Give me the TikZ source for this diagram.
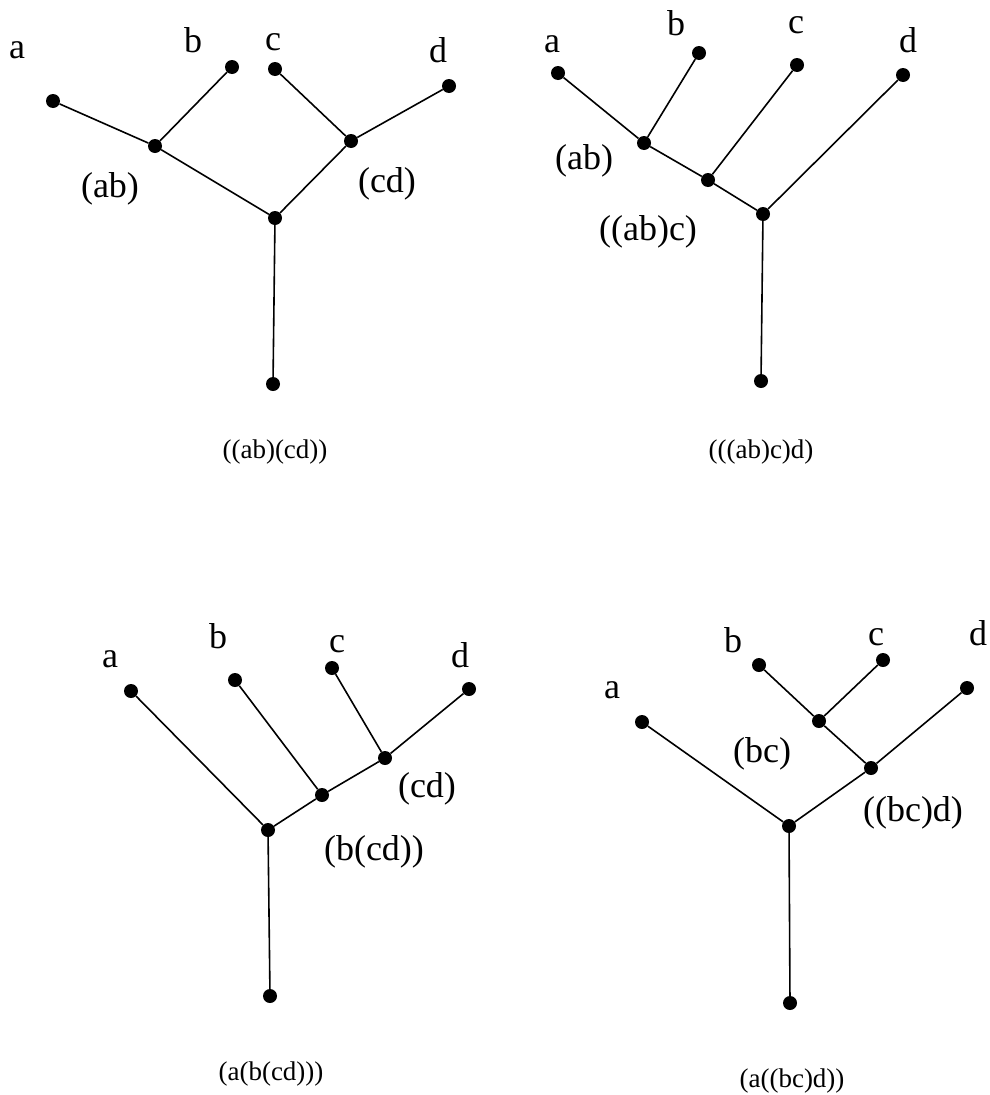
\documentclass[tikz,border=0pt]{standalone}
\usepackage{fontspec}
\setmainfont{Liberation Serif}
\begin{document}
\begin{tikzpicture}[x=1pt,y=-1pt,
  dot/.style={circle,fill=black,draw=none,inner sep=0pt,minimum size=14pt},
  edge/.style={line width=1.6pt},
  lbl/.style={anchor=base,inner sep=0pt,font=\fontsize{36}{40}\selectfont},
  captxt/.style={anchor=base,inner sep=0pt,font=\fontsize{27}{30}\selectfont}]
\useasboundingbox (0,0) rectangle (990,1095);
% ---------- top-left ((ab)(cd))
\node[dot] (tla) at (53,101) {};
\node[dot] (tlb) at (232,67) {};
\node[dot] (tlc) at (275,69) {};
\node[dot] (tld) at (449,86) {};
\node[dot] (tlab) at (155,146) {};
\node[dot] (tlcd) at (351,141) {};
\node[dot] (tlr) at (275,218) {};
\node[dot] (tlbot) at (273,384) {};
\draw[edge] (tla) -- (tlab) -- (tlr) -- (tlbot);
\draw[edge] (tlb) -- (tlab);
\draw[edge] (tlc) -- (tlcd) -- (tlr);
\draw[edge] (tld) -- (tlcd);
\node[lbl] (tlla) at (17,58) {a};
\node[lbl] (tllb) at (193,52) {b};
\node[lbl] (tllc) at (273,50) {c};
\node[lbl] (tlld) at (438,62) {d};
\node[lbl] (tllab) at (110,197) {(ab)};
\node[lbl] (tllcd) at (387,192) {(cd)};
\node[captxt] (tlcap) at (275,458) {((ab)(cd))};
% ---------- top-right (((ab)c)d)
\node[dot] (tra) at (558,73) {};
\node[dot] (trb) at (699,53) {};
\node[dot] (trc) at (797,65) {};
\node[dot] (trd) at (903,75) {};
\node[dot] (trab) at (644,143) {};
\node[dot] (trabc) at (708,180) {};
\node[dot] (trr) at (763,214) {};
\node[dot] (trbot) at (761,381) {};
\draw[edge] (tra) -- (trab) -- (trabc) -- (trr) -- (trbot);
\draw[edge] (trb) -- (trab);
\draw[edge] (trc) -- (trabc);
\draw[edge] (trd) -- (trr);
\node[lbl] (trla) at (552,52) {a};
\node[lbl] (trlb) at (676,35) {b};
\node[lbl] (trlc) at (796,33) {c};
\node[lbl] (trld) at (908,52) {d};
\node[lbl] (trlab) at (584,169) {(ab)};
\node[lbl] (trlabc) at (648,240) {((ab)c)};
\node[captxt] (trcap) at (761,458) {(((ab)c)d)};
% ---------- bottom-left (a(b(cd)))
\node[dot] (bla) at (131,691) {};
\node[dot] (blb) at (235,680) {};
\node[dot] (blc) at (332,668) {};
\node[dot] (bld) at (469,689) {};
\node[dot] (blcd) at (385,758) {};
\node[dot] (blbcd) at (322,795) {};
\node[dot] (blr) at (268,830) {};
\node[dot] (blbot) at (270,996) {};
\draw[edge] (bla) -- (blr) -- (blbot);
\draw[edge] (blb) -- (blbcd) -- (blr);
\draw[edge] (blc) -- (blcd) -- (blbcd);
\draw[edge] (bld) -- (blcd);
\node[lbl] (blla) at (110,667) {a};
\node[lbl] (bllb) at (218,648) {b};
\node[lbl] (bllc) at (337,652) {c};
\node[lbl] (blld) at (460,667) {d};
\node[lbl] (bllcd) at (427,797) {(cd)};
\node[lbl] (bllbcd) at (374,860) {(b(cd))};
\node[captxt] (blcap) at (271,1080) {(a(b(cd)))};
% ---------- bottom-right (a((bc)d))
\node[dot] (bra) at (642,722) {};
\node[dot] (brb) at (759,665) {};
\node[dot] (brc) at (883,660) {};
\node[dot] (brd) at (967,688) {};
\node[dot] (brbc) at (819,721) {};
\node[dot] (brbcd) at (871,768) {};
\node[dot] (brr) at (789,826) {};
\node[dot] (brbot) at (790,1003) {};
\draw[edge] (bra) -- (brr) -- (brbot);
\draw[edge] (brb) -- (brbc) -- (brbcd) -- (brr);
\draw[edge] (brc) -- (brbc);
\draw[edge] (brd) -- (brbcd);
\node[lbl] (brla) at (612,698) {a};
\node[lbl] (brlb) at (733,652) {b};
\node[lbl] (brlc) at (876,645) {c};
\node[lbl] (brld) at (978,645) {d};
\node[lbl] (brlbc) at (762,762) {(bc)};
\node[lbl] (brlbcd) at (913,821) {((bc)d)};
\node[captxt] (brcap) at (792,1087) {(a((bc)d))};
\end{tikzpicture}
\end{document}
